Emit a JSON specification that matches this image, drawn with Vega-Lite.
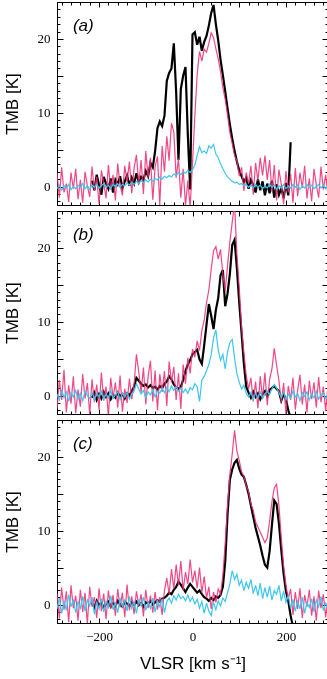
{
"$schema": "https://vega.github.io/schema/vega-lite/v6.json",
"padding": {"left": 2, "top": 1, "right": 0, "bottom": 0},
"spacing": 6,
"bounds": "flush",
"config": {
  "view": {"stroke": "black", "strokeWidth": 1},
  "axis": {"grid": false, "domainColor": "black", "domainWidth": 1, "tickColor": "black", "tickWidth": 1,
    "labelFont": "Liberation Serif, Times New Roman, DejaVu Serif, serif", "labelFontSize": 13, "labelColor": "black", "labelOverlap": false, "labelBound": false, "labelFlush": false,
    "titleFont": "Liberation Sans, Arial, sans-serif", "titleFontSize": 17, "titleFontWeight": "normal", "titleColor": "black"}
},
"datasets": {
"a": [
{"v":-290,"p":1.8,"c":-0.3},{"v":-285,"p":-1.5,"c":0.2},{"v":-280,"p":2.6,"c":-0.5},{"v":-275,"p":-0.8,"c":0.1},{"v":-270,"p":0.4,"c":-0.2},{"v":-265,"p":-2.1,"c":0.3},{"v":-260,"p":1.9,"c":-0.4},{"v":-255,"p":-0.3,"c":0.0},{"v":-250,"p":2.4,"c":-0.3},{"v":-245,"p":-1.7,"c":0.2},{"v":-240,"p":0.9,"c":-0.1},{"v":-235,"p":-2.2,"c":0.4},{"v":-230,"p":2.0,"c":-0.3},{"v":-225,"p":0.1,"c":0.1},{"v":-220,"p":-1.4,"c":-0.4},
{"v":-215,"k":0.8,"p":2.7,"c":0.2},{"v":-210,"k":-0.5,"p":-0.6,"c":-0.1},{"v":-205,"k":1.6,"p":1.3,"c":0.3},{"v":-200,"k":0.2,"p":-2.4,"c":-0.2},{"v":-195,"k":-1.1,"p":2.2,"c":0.1},{"v":-190,"k":1.3,"p":0.5,"c":0.4},{"v":-185,"k":0.4,"p":-1.6,"c":-0.1},{"v":-180,"k":-0.3,"p":2.9,"c":0.2},{"v":-175,"k":1.1,"p":-0.4,"c":-0.3},{"v":-170,"k":-0.8,"p":1.6,"c":0.3},{"v":-165,"k":0.9,"p":-1.9,"c":0.0},{"v":-160,"k":0.3,"p":3.1,"c":0.4},{"v":-155,"k":1.4,"p":0.2,"c":-0.1},{"v":-150,"k":-0.2,"p":-1.2,"c":0.3},{"v":-145,"k":0.7,"p":2.8,"c":0.1},{"v":-140,"k":1.5,"p":0.6,"c":0.5},{"v":-135,"k":0.1,"p":3.4,"c":0.2},{"v":-130,"k":1.2,"p":-0.9,"c":0.6},{"v":-125,"k":0.4,"p":2.5,"c":0.3},{"v":-120,"k":1.8,"p":4.3,"c":0.7},{"v":-115,"k":0.6,"p":0.3,"c":0.4},{"v":-110,"k":1.3,"p":3.6,"c":0.8},{"v":-105,"k":0.9,"p":-1.0,"c":0.5},{"v":-100,"k":2.1,"p":4.8,"c":0.9},{"v":-95,"k":1.4,"p":1.2,"c":0.6},{"v":-90,"k":3.2,"p":3.9,"c":1.0},{"v":-85,"k":2.6,"p":-1.8,"c":0.7},{"v":-80,"k":4.8,"p":2.7,"c":1.1},{"v":-75,"k":7.9,"p":4.1,"c":0.9},{"v":-70,"k":8.8,"p":-2.5,"c":1.3},{"v":-65,"k":8.2,"p":5.5,"c":1.0},{"v":-60,"k":9.6,"p":2.0,"c":1.4},{"v":-55,"k":14.3,"p":6.8,"c":1.2},{"v":-50,"k":15.4,"p":3.5,"c":1.5},{"v":-45,"k":16.0,"p":8.6,"c":1.3},{"v":-40,"k":19.4,"p":7.4,"c":1.7},{"v":-35,"k":12.8,"p":1.2,"c":1.5},{"v":-30,"k":3.6,"p":3.8,"c":1.9},{"v":-25,"k":13.2,"p":-1.5,"c":1.6},{"v":-20,"k":15.0,"p":2.4,"c":2.0},{"v":-15,"k":16.2,"p":-2.6,"c":1.8},{"v":-10,"k":7.0,"p":0.8,"c":2.2},{"v":-5,"k":-0.4,"p":-2.8,"c":1.9},{"v":0,"k":20.6,"p":3.2,"c":2.3},{"v":5,"k":20.9,"p":9.5,"c":2.9},{"v":10,"k":19.2,"p":15.2,"c":4.2},{"v":15,"k":20.3,"p":18.3,"c":5.4},{"v":20,"k":18.4,"p":17.0,"c":4.6},{"v":25,"k":19.6,"p":18.6,"c":4.8},{"v":30,"k":20.4,"p":18.2,"c":4.5},{"v":35,"k":21.8,"p":19.4,"c":5.5},{"v":40,"k":23.5,"p":20.8,"c":5.2},{"v":45,"k":24.6,"p":20.2,"c":5.7},{"v":50,"k":22.0,"p":18.7,"c":4.4},{"v":55,"k":19.8,"p":17.3,"c":3.9},{"v":60,"k":17.2,"p":15.6,"c":3.1},{"v":65,"k":15.1,"p":13.4,"c":2.4},{"v":70,"k":12.9,"p":11.8,"c":1.8},{"v":75,"k":10.6,"p":9.7,"c":1.3},{"v":80,"k":8.4,"p":7.3,"c":1.0},{"v":85,"k":6.5,"p":5.8,"c":0.7},{"v":90,"k":4.8,"p":4.2,"c":0.5},{"v":95,"k":3.4,"p":3.5,"c":0.6},{"v":100,"k":2.2,"p":1.4,"c":0.3},{"v":105,"k":1.4,"p":2.6,"c":0.4},{"v":110,"k":0.6,"p":-0.6,"c":0.1},{"v":115,"k":1.2,"p":1.9,"c":0.3},{"v":120,"k":-0.3,"p":0.4,"c":-0.1},{"v":125,"k":0.9,"p":2.8,"c":0.2},{"v":130,"k":0.2,"p":-1.1,"c":-0.2},{"v":135,"k":-0.8,"p":3.2,"c":0.3},{"v":140,"k":1.0,"p":0.8,"c":-0.1},{"v":145,"k":-0.5,"p":3.9,"c":0.2},{"v":150,"k":0.7,"p":1.5,"c":-0.3},{"v":155,"k":-1.2,"p":4.2,"c":0.1},{"v":160,"k":0.4,"p":0.9,"c":-0.2},{"v":165,"k":-0.9,"p":3.6,"c":0.3},{"v":170,"k":0.8,"p":-0.7,"c":-0.1},{"v":175,"k":-1.5,"p":2.9,"c":0.2},{"v":180,"k":0.3,"p":-1.9,"c":-0.4},{"v":185,"k":-1.1,"p":2.3,"c":0.1},{"v":190,"k":-0.2,"p":0.3,"c":-0.2},{"v":195,"k":-1.6,"p":-2.4,"c":0.3},{"v":200,"k":0.5,"p":2.1,"c":-0.3},{"v":205,"k":-1.2,"p":-0.8,"c":0.1},{"v":210,"k":6.0,"p":1.7,"c":-0.2},
{"v":215,"p":-2.2,"c":0.3},{"v":220,"p":2.5,"c":-0.1},{"v":225,"p":-1.3,"c":0.2},{"v":230,"p":1.9,"c":-0.4},{"v":235,"p":-0.2,"c":0.1},{"v":240,"p":2.8,"c":-0.2},{"v":245,"p":-1.6,"c":0.3},{"v":250,"p":1.1,"c":-0.1},{"v":255,"p":-2.0,"c":0.2},{"v":260,"p":2.4,"c":-0.3},{"v":265,"p":0.2,"c":0.0},{"v":270,"p":-1.5,"c":0.3},{"v":275,"p":2.7,"c":-0.2},{"v":280,"p":-0.4,"c":0.2},{"v":285,"p":1.6,"c":-0.3},{"v":290,"p":-1.2,"c":0.1}
],
"b": [
{"v":-290,"p":-1.8,"c":0.2},{"v":-285,"p":2.1,"c":-0.6},{"v":-280,"p":-0.6,"c":0.8},{"v":-275,"p":3.5,"c":-0.3},{"v":-270,"p":-2.3,"c":0.5},{"v":-265,"p":1.4,"c":-0.8},{"v":-260,"p":-1.1,"c":0.4},{"v":-255,"p":2.6,"c":-0.2},{"v":-250,"p":-2.4,"c":0.7},{"v":-245,"p":0.8,"c":-0.5},{"v":-240,"p":-1.5,"c":0.3},{"v":-235,"p":2.9,"c":-0.7},{"v":-230,"p":-0.4,"c":0.6},{"v":-225,"p":1.7,"c":0.0},{"v":-220,"p":-2.6,"c":-0.4},
{"v":-215,"k":-0.3,"p":2.2,"c":0.5},{"v":-210,"k":0.4,"p":-0.9,"c":-0.6},{"v":-205,"k":-0.6,"p":1.5,"c":0.3},{"v":-200,"k":0.2,"p":-1.9,"c":-0.2},{"v":-195,"k":-0.4,"p":3.1,"c":0.6},{"v":-190,"k":0.5,"p":-0.7,"c":-0.5},{"v":-185,"k":-0.2,"p":1.2,"c":0.2},{"v":-180,"k":0.3,"p":-2.8,"c":-0.3},{"v":-175,"k":-0.5,"p":2.4,"c":0.7},{"v":-170,"k":0.1,"p":-0.3,"c":-0.4},{"v":-165,"k":-0.3,"p":1.8,"c":0.1},{"v":-160,"k":0.4,"p":-1.6,"c":0.5},{"v":-155,"k":-0.1,"p":2.7,"c":-0.6},{"v":-150,"k":0.2,"p":-2.2,"c":0.3},{"v":-145,"k":-0.4,"p":0.9,"c":-0.2},{"v":-140,"k":0.3,"p":-1.0,"c":0.4},{"v":-135,"k":0.0,"p":2.3,"c":-0.5},{"v":-130,"k":0.6,"p":-0.5,"c":0.2},{"v":-125,"k":1.2,"p":1.6,"c":0.6},{"v":-120,"k":2.4,"p":5.6,"c":1.6},{"v":-115,"k":2.0,"p":3.2,"c":0.9},{"v":-110,"k":1.6,"p":0.4,"c":0.2},{"v":-105,"k":1.3,"p":3.8,"c":0.7},{"v":-100,"k":1.5,"p":-1.2,"c":-0.3},{"v":-95,"k":1.1,"p":2.6,"c":0.5},{"v":-90,"k":1.4,"p":4.7,"c":0.1},{"v":-85,"k":1.0,"p":-0.8,"c":0.8},{"v":-80,"k":1.2,"p":3.4,"c":-0.2},{"v":-75,"k":0.8,"p":-2.0,"c":0.6},{"v":-70,"k":1.3,"p":2.9,"c":0.3},{"v":-65,"k":1.0,"p":0.5,"c":1.0},{"v":-60,"k":1.6,"p":3.3,"c":0.4},{"v":-55,"k":1.9,"p":-1.4,"c":1.1},{"v":-50,"k":2.6,"p":4.6,"c":0.5},{"v":-45,"k":2.2,"p":1.8,"c":1.3},{"v":-40,"k":1.5,"p":3.9,"c":0.7},{"v":-35,"k":1.1,"p":-0.6,"c":1.2},{"v":-30,"k":0.9,"p":3.0,"c":0.6},{"v":-25,"k":1.2,"p":-1.8,"c":1.0},{"v":-20,"k":2.1,"p":4.2,"c":0.4},{"v":-15,"k":3.3,"p":1.6,"c":0.9},{"v":-10,"k":4.2,"p":5.1,"c":0.3},{"v":-5,"k":4.8,"p":3.0,"c":1.1},{"v":0,"k":5.6,"p":6.3,"c":0.8},{"v":5,"k":5.9,"p":5.2,"c":1.6},{"v":10,"k":6.2,"p":7.4,"c":1.2},{"v":15,"k":4.9,"p":6.1,"c":-0.8},{"v":20,"k":4.3,"p":8.8,"c":2.1},{"v":25,"k":6.8,"p":10.2,"c":2.6},{"v":30,"k":9.6,"p":12.6,"c":3.4},{"v":35,"k":12.4,"p":14.3,"c":4.2},{"v":40,"k":10.8,"p":17.1,"c":5.5},{"v":45,"k":9.0,"p":19.6,"c":7.8},{"v":50,"k":11.6,"p":20.2,"c":8.9},{"v":55,"k":13.2,"p":18.5,"c":6.2},{"v":60,"k":16.3,"p":19.8,"c":4.8},{"v":65,"k":17.0,"p":16.4,"c":5.6},{"v":70,"k":12.1,"p":14.2,"c":3.6},{"v":75,"k":13.8,"p":17.6,"c":5.9},{"v":80,"k":16.5,"p":20.8,"c":7.2},{"v":85,"k":20.4,"p":23.5,"c":7.6},{"v":90,"k":21.1,"p":26.0,"c":5.1},{"v":95,"k":17.3,"p":19.2,"c":3.0},{"v":100,"k":12.6,"p":14.6,"c":1.8},{"v":105,"k":8.5,"p":9.3,"c":0.9},{"v":110,"k":4.3,"p":5.8,"c":1.4},{"v":115,"k":1.2,"p":2.7,"c":0.3},{"v":120,"k":0.4,"p":0.9,"c":-0.2},{"v":125,"k":-0.3,"p":2.4,"c":0.4},{"v":130,"k":0.5,"p":-0.8,"c":-0.5},{"v":135,"k":-0.2,"p":1.9,"c":0.3},{"v":140,"k":0.3,"p":-1.7,"c":-0.3},{"v":145,"k":-0.5,"p":2.6,"c":0.5},{"v":150,"k":0.2,"p":-0.4,"c":-0.4},{"v":155,"k":0.6,"p":3.1,"c":0.2},{"v":160,"k":-0.1,"p":-1.3,"c":0.6},{"v":165,"k":0.8,"p":2.2,"c":0.1},{"v":170,"k":1.0,"p":3.6,"c":0.9},{"v":175,"k":1.3,"p":6.4,"c":1.5},{"v":180,"k":0.9,"p":4.1,"c":1.0},{"v":185,"k":0.6,"p":2.0,"c":0.4},{"v":190,"k":-0.7,"p":-0.9,"c":-0.3},{"v":195,"k":0.2,"p":1.7,"c":0.5},{"v":200,"k":-0.5,"p":-2.5,"c":-0.6},{"v":205,"k":-2.0,"p":1.3,"c":0.2},{"v":210,"k":-3.0,"p":-0.6,"c":-0.4},
{"v":215,"p":2.4,"c":0.6},{"v":220,"p":-1.9,"c":-0.2},{"v":225,"p":0.7,"c":0.3},{"v":230,"p":2.8,"c":-0.7},{"v":235,"p":-1.2,"c":0.4},{"v":240,"p":1.5,"c":-0.1},{"v":245,"p":-2.3,"c":0.5},{"v":250,"p":2.0,"c":-0.6},{"v":255,"p":-0.5,"c":0.2},{"v":260,"p":1.8,"c":-0.3},{"v":265,"p":-1.6,"c":0.6},{"v":270,"p":2.5,"c":-0.5},{"v":275,"p":-0.9,"c":0.1},{"v":280,"p":1.2,"c":0.4},{"v":285,"p":-2.1,"c":-0.4},{"v":290,"p":1.4,"c":0.2}
],
"c": [
{"v":-290,"p":1.5,"c":-0.6},{"v":-285,"p":-1.9,"c":0.9},{"v":-280,"p":2.3,"c":-1.2},{"v":-275,"p":-0.7,"c":0.5},{"v":-270,"p":1.8,"c":-0.8},{"v":-265,"p":-2.4,"c":1.3},{"v":-260,"p":2.6,"c":-0.3},{"v":-255,"p":-0.5,"c":0.7},{"v":-250,"p":1.2,"c":-1.1},{"v":-245,"p":-2.2,"c":0.4},{"v":-240,"p":2.0,"c":-0.5},{"v":-235,"p":-1.0,"c":1.1},{"v":-230,"p":1.6,"c":-0.9},{"v":-225,"p":-2.6,"c":0.6},{"v":-220,"p":2.4,"c":-0.2},
{"v":-215,"k":0.2,"p":-0.3,"c":1.0},{"v":-210,"k":-0.4,"p":1.0,"c":-1.3},{"v":-205,"k":0.5,"p":-1.8,"c":0.3},{"v":-200,"k":-0.1,"p":2.2,"c":-0.6},{"v":-195,"k":0.3,"p":-0.9,"c":0.8},{"v":-190,"k":-0.5,"p":1.5,"c":-1.0},{"v":-185,"k":0.1,"p":-2.0,"c":0.5},{"v":-180,"k":0.4,"p":1.9,"c":-0.4},{"v":-175,"k":-0.3,"p":-0.6,"c":1.2},{"v":-170,"k":0.2,"p":1.3,"c":-0.7},{"v":-165,"k":-0.2,"p":-1.5,"c":0.2},{"v":-160,"k":0.5,"p":2.1,"c":-1.1},{"v":-155,"k":0.0,"p":-0.4,"c":0.9},{"v":-150,"k":-0.3,"p":1.6,"c":-0.3},{"v":-145,"k":0.4,"p":-1.7,"c":0.6},{"v":-140,"k":0.1,"p":2.7,"c":-0.9},{"v":-135,"k":-0.2,"p":-0.8,"c":1.1},{"v":-130,"k":0.3,"p":1.1,"c":-0.5},{"v":-125,"k":0.0,"p":-1.3,"c":0.4},{"v":-120,"k":0.4,"p":1.8,"c":-1.2},{"v":-115,"k":-0.1,"p":-0.2,"c":0.7},{"v":-110,"k":0.2,"p":1.4,"c":-0.2},{"v":-105,"k":-0.3,"p":-1.6,"c":1.0},{"v":-100,"k":0.3,"p":2.0,"c":-0.8},{"v":-95,"k":0.1,"p":-0.5,"c":0.3},{"v":-90,"k":0.5,"p":1.2,"c":-0.5},{"v":-85,"k":0.0,"p":-1.1,"c":0.9},{"v":-80,"k":0.3,"p":1.7,"c":-1.0},{"v":-75,"k":0.6,"p":-0.7,"c":0.5},{"v":-70,"k":0.4,"p":1.0,"c":-0.3},{"v":-65,"k":0.8,"p":-1.4,"c":0.8},{"v":-60,"k":0.9,"p":1.9,"c":-1.1},{"v":-55,"k":1.2,"p":3.6,"c":0.4},{"v":-50,"k":1.6,"p":1.4,"c":0.9},{"v":-45,"k":1.4,"p":4.8,"c":0.2},{"v":-40,"k":2.0,"p":2.1,"c":1.2},{"v":-35,"k":2.4,"p":5.4,"c":0.6},{"v":-30,"k":3.1,"p":2.6,"c":1.4},{"v":-25,"k":2.7,"p":5.9,"c":0.8},{"v":-20,"k":2.2,"p":1.9,"c":1.1},{"v":-15,"k":1.7,"p":4.4,"c":0.5},{"v":-10,"k":2.3,"p":2.8,"c":1.3},{"v":-5,"k":2.8,"p":6.1,"c":0.4},{"v":0,"k":2.4,"p":3.0,"c":1.0},{"v":5,"k":2.0,"p":4.6,"c":0.1},{"v":10,"k":1.6,"p":2.2,"c":0.7},{"v":15,"k":1.9,"p":5.0,"c":-0.5},{"v":20,"k":1.4,"p":1.6,"c":0.4},{"v":25,"k":1.0,"p":3.8,"c":-1.2},{"v":30,"k":0.8,"p":0.9,"c":0.2},{"v":35,"k":0.5,"p":2.4,"c":-0.9},{"v":40,"k":0.9,"p":-0.6,"c":-1.5},{"v":45,"k":0.6,"p":1.7,"c":0.3},{"v":50,"k":1.1,"p":0.3,"c":-0.7},{"v":55,"k":0.9,"p":2.1,"c":0.5},{"v":60,"k":1.3,"p":1.4,"c":-0.2},{"v":65,"k":2.4,"p":4.0,"c":0.9},{"v":70,"k":5.8,"p":8.3,"c":0.4},{"v":75,"k":12.2,"p":13.5,"c":1.6},{"v":80,"k":16.9,"p":17.6,"c":2.8},{"v":85,"k":18.3,"p":20.4,"c":4.6},{"v":90,"k":19.2,"p":23.6,"c":3.4},{"v":95,"k":19.6,"p":20.8,"c":4.1},{"v":100,"k":18.4,"p":19.5,"c":2.6},{"v":105,"k":17.6,"p":18.0,"c":3.3},{"v":110,"k":17.3,"p":17.4,"c":1.9},{"v":115,"k":16.2,"p":16.1,"c":3.0},{"v":120,"k":15.0,"p":15.3,"c":2.2},{"v":125,"k":13.4,"p":13.6,"c":3.4},{"v":130,"k":11.9,"p":12.8,"c":1.5},{"v":135,"k":10.4,"p":11.2,"c":2.6},{"v":140,"k":9.2,"p":10.5,"c":1.2},{"v":145,"k":8.0,"p":9.8,"c":2.9},{"v":150,"k":6.6,"p":9.1,"c":0.8},{"v":155,"k":5.4,"p":8.4,"c":2.3},{"v":160,"k":5.0,"p":9.0,"c":1.0},{"v":165,"k":7.2,"p":11.3,"c":2.5},{"v":170,"k":10.8,"p":13.9,"c":0.6},{"v":175,"k":14.1,"p":15.8,"c":1.9},{"v":180,"k":13.6,"p":16.3,"c":1.4},{"v":185,"k":11.0,"p":13.4,"c":2.6},{"v":190,"k":7.4,"p":9.0,"c":0.5},{"v":195,"k":4.2,"p":5.2,"c":1.8},{"v":200,"k":1.8,"p":2.6,"c":0.3},{"v":205,"k":0.5,"p":0.8,"c":1.2},{"v":210,"k":-1.5,"p":2.1,"c":-0.5},{"v":215,"k":-3.0,"p":-1.4,"c":0.7},
{"v":220,"p":1.7,"c":-0.9},{"v":225,"p":-0.6,"c":0.4},{"v":230,"p":2.2,"c":-0.6},{"v":235,"p":-1.8,"c":1.0},{"v":240,"p":1.3,"c":-1.2},{"v":245,"p":-0.3,"c":0.3},{"v":250,"p":2.0,"c":-0.4},{"v":255,"p":-1.5,"c":0.8},{"v":260,"p":1.1,"c":-1.0},{"v":265,"p":-2.2,"c":0.6},{"v":270,"p":1.9,"c":-0.3},{"v":275,"p":-0.5,"c":1.1},{"v":280,"p":1.4,"c":-0.8},{"v":285,"p":-1.7,"c":0.2},{"v":290,"p":0.9,"c":-0.5}
]
},
"vconcat": [
{
  "width": 271, "height": 203,
  "data": {"name": "a"},
  "resolve": {"axis": {"x": "independent", "y": "independent"}},
  "layer": [
    {"mark": {"type": "line", "stroke": "black", "strokeWidth": 2.2, "clip": true},
     "encoding": {
       "x": {"field": "v", "type": "quantitative", "scale": {"domain": [-290, 290], "nice": false, "zero": false},
             "axis": {"orient": "bottom", "values": [-280,-260,-240,-220,-200,-180,-160,-140,-120,-100,-80,-60,-40,-20,0,20,40,60,80,100,120,140,160,180,200,220,240,260,280], "labels": false, "title": null, "tickSize": {"condition": {"test": "datum.value % 100 === 0", "value": -5}, "value": -3}}},
       "y": {"field": "k", "type": "quantitative", "scale": {"domain": [-2.5, 25], "nice": false, "zero": false},
             "axis": {"orient": "left", "values": [-2,-1,0,1,2,3,4,5,6,7,8,9,10,11,12,13,14,15,16,17,18,19,20,21,22,23,24], "labelExpr": "datum.value % 10 === 0 ? datum.label : ''", "labelPadding": 13, "tickSize": {"condition": {"test": "datum.value % 5 === 0", "value": -6}, "value": -3}, "title": "TMB  [K]", "titlePadding": 16}}
     }},
    {"mark": {"type": "line", "stroke": "#ec2f76", "strokeWidth": 1.2, "opacity": 0.88, "clip": true},
     "encoding": {
       "x": {"field": "v", "type": "quantitative", "axis": {"orient": "top", "values": [-280,-260,-240,-220,-200,-180,-160,-140,-120,-100,-80,-60,-40,-20,0,20,40,60,80,100,120,140,160,180,200,220,240,260,280], "labels": false, "title": null, "tickSize": {"condition": {"test": "datum.value % 100 === 0", "value": -5}, "value": -3}}},
       "y": {"field": "p", "type": "quantitative", "axis": {"orient": "right", "values": [-2,-1,0,1,2,3,4,5,6,7,8,9,10,11,12,13,14,15,16,17,18,19,20,21,22,23,24], "labels": false, "title": null, "tickSize": {"condition": {"test": "datum.value % 5 === 0", "value": -6}, "value": -3}}}
     }},
    {"mark": {"type": "line", "stroke": "#3cc6f0", "strokeWidth": 1.2, "blend": "multiply", "clip": true},
     "encoding": {
       "x": {"field": "v", "type": "quantitative", "axis": null},
       "y": {"field": "c", "type": "quantitative", "axis": null}
     }},
    {"data": {"values": [{"lab": "(a)"}]},
     "mark": {"type": "text", "align": "left", "baseline": "middle", "font": "Liberation Sans", "fontSize": 17, "fontStyle": "italic", "color": "black"},
     "encoding": {
       "x": {"datum": -256, "type": "quantitative", "axis": null},
       "y": {"datum": 21.7, "type": "quantitative", "axis": null},
       "text": {"field": "lab"}
     }}
  ]
},
{
  "width": 271, "height": 203,
  "data": {"name": "b"},
  "resolve": {"axis": {"x": "independent", "y": "independent"}},
  "layer": [
    {"mark": {"type": "line", "stroke": "black", "strokeWidth": 2.2, "clip": true},
     "encoding": {
       "x": {"field": "v", "type": "quantitative", "scale": {"domain": [-290, 290], "nice": false, "zero": false},
             "axis": {"orient": "bottom", "values": [-280,-260,-240,-220,-200,-180,-160,-140,-120,-100,-80,-60,-40,-20,0,20,40,60,80,100,120,140,160,180,200,220,240,260,280], "labels": false, "title": null, "tickSize": {"condition": {"test": "datum.value % 100 === 0", "value": -5}, "value": -3}}},
       "y": {"field": "k", "type": "quantitative", "scale": {"domain": [-2.5, 25], "nice": false, "zero": false},
             "axis": {"orient": "left", "values": [-2,-1,0,1,2,3,4,5,6,7,8,9,10,11,12,13,14,15,16,17,18,19,20,21,22,23,24], "labelExpr": "datum.value % 10 === 0 ? datum.label : ''", "labelPadding": 13, "tickSize": {"condition": {"test": "datum.value % 5 === 0", "value": -6}, "value": -3}, "title": "TMB  [K]", "titlePadding": 16}}
     }},
    {"mark": {"type": "line", "stroke": "#ec2f76", "strokeWidth": 1.2, "opacity": 0.88, "clip": true},
     "encoding": {
       "x": {"field": "v", "type": "quantitative", "axis": {"orient": "top", "values": [-280,-260,-240,-220,-200,-180,-160,-140,-120,-100,-80,-60,-40,-20,0,20,40,60,80,100,120,140,160,180,200,220,240,260,280], "labels": false, "title": null, "tickSize": {"condition": {"test": "datum.value % 100 === 0", "value": -5}, "value": -3}}},
       "y": {"field": "p", "type": "quantitative", "axis": {"orient": "right", "values": [-2,-1,0,1,2,3,4,5,6,7,8,9,10,11,12,13,14,15,16,17,18,19,20,21,22,23,24], "labels": false, "title": null, "tickSize": {"condition": {"test": "datum.value % 5 === 0", "value": -6}, "value": -3}}}
     }},
    {"mark": {"type": "line", "stroke": "#3cc6f0", "strokeWidth": 1.2, "blend": "multiply", "clip": true},
     "encoding": {
       "x": {"field": "v", "type": "quantitative", "axis": null},
       "y": {"field": "c", "type": "quantitative", "axis": null}
     }},
    {"data": {"values": [{"lab": "(b)"}]},
     "mark": {"type": "text", "align": "left", "baseline": "middle", "font": "Liberation Sans", "fontSize": 17, "fontStyle": "italic", "color": "black"},
     "encoding": {
       "x": {"datum": -256, "type": "quantitative", "axis": null},
       "y": {"datum": 21.7, "type": "quantitative", "axis": null},
       "text": {"field": "lab"}
     }}
  ]
},
{
  "width": 271, "height": 203,
  "data": {"name": "c"},
  "resolve": {"axis": {"x": "independent", "y": "independent"}},
  "layer": [
    {"mark": {"type": "line", "stroke": "black", "strokeWidth": 2.2, "clip": true},
     "encoding": {
       "x": {"field": "v", "type": "quantitative", "scale": {"domain": [-290, 290], "nice": false, "zero": false},
             "axis": {"orient": "bottom", "values": [-280,-260,-240,-220,-200,-180,-160,-140,-120,-100,-80,-60,-40,-20,0,20,40,60,80,100,120,140,160,180,200,220,240,260,280], "labelExpr": "datum.value % 200 === 0 ? datum.label : ''", "labelPadding": 12, "title": "VLSR  [km s⁻¹]", "titlePadding": 10, "tickSize": {"condition": {"test": "datum.value % 100 === 0", "value": -5}, "value": -3}}},
       "y": {"field": "k", "type": "quantitative", "scale": {"domain": [-2.5, 25], "nice": false, "zero": false},
             "axis": {"orient": "left", "values": [-2,-1,0,1,2,3,4,5,6,7,8,9,10,11,12,13,14,15,16,17,18,19,20,21,22,23,24], "labelExpr": "datum.value % 10 === 0 ? datum.label : ''", "labelPadding": 13, "tickSize": {"condition": {"test": "datum.value % 5 === 0", "value": -6}, "value": -3}, "title": "TMB  [K]", "titlePadding": 16}}
     }},
    {"mark": {"type": "line", "stroke": "#ec2f76", "strokeWidth": 1.2, "opacity": 0.88, "clip": true},
     "encoding": {
       "x": {"field": "v", "type": "quantitative", "axis": {"orient": "top", "values": [-280,-260,-240,-220,-200,-180,-160,-140,-120,-100,-80,-60,-40,-20,0,20,40,60,80,100,120,140,160,180,200,220,240,260,280], "labels": false, "title": null, "tickSize": {"condition": {"test": "datum.value % 100 === 0", "value": -5}, "value": -3}}},
       "y": {"field": "p", "type": "quantitative", "axis": {"orient": "right", "values": [-2,-1,0,1,2,3,4,5,6,7,8,9,10,11,12,13,14,15,16,17,18,19,20,21,22,23,24], "labels": false, "title": null, "tickSize": {"condition": {"test": "datum.value % 5 === 0", "value": -6}, "value": -3}}}
     }},
    {"mark": {"type": "line", "stroke": "#3cc6f0", "strokeWidth": 1.2, "blend": "multiply", "clip": true},
     "encoding": {
       "x": {"field": "v", "type": "quantitative", "axis": null},
       "y": {"field": "c", "type": "quantitative", "axis": null}
     }},
    {"data": {"values": [{"lab": "(c)"}]},
     "mark": {"type": "text", "align": "left", "baseline": "middle", "font": "Liberation Sans", "fontSize": 17, "fontStyle": "italic", "color": "black"},
     "encoding": {
       "x": {"datum": -256, "type": "quantitative", "axis": null},
       "y": {"datum": 21.7, "type": "quantitative", "axis": null},
       "text": {"field": "lab"}
     }}
  ]
}
]
}
